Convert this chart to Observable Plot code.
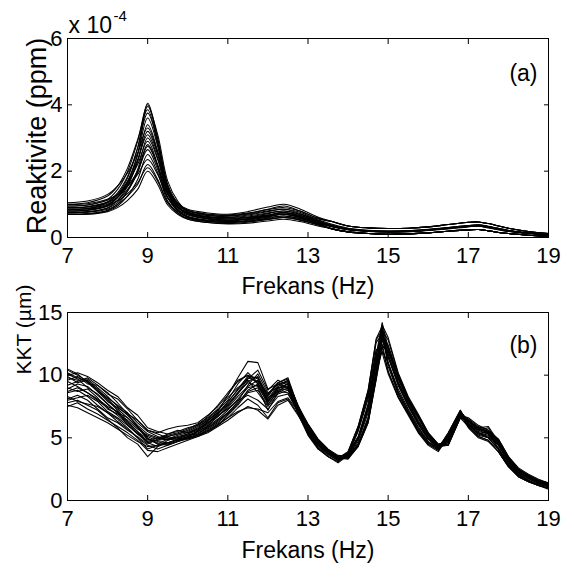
<!DOCTYPE html>
<html><head><meta charset="utf-8">
<script src="https://cdn.jsdelivr.net/npm/d3@7"></script>
<script src="https://cdn.jsdelivr.net/npm/@observablehq/plot@0.6"></script>
<style>
body{margin:0;background:#fff;}
#chart{position:relative;width:574px;height:577px;background:#fff;}
#chart svg{position:absolute;left:0;overflow:visible;background:transparent;}
</style></head><body><div id="chart"></div>
<script>
// ---- Panel (a): reactivity, values in units of 1e-4 ppm ----
const freqA = [7, 7.5, 8, 8.25, 8.5, 8.75, 9, 9.25, 9.5, 9.75, 10, 10.5, 11, 11.5, 12, 12.4, 12.8, 13.2, 13.6, 14, 14.5, 15, 15.5, 16, 16.5, 17, 17.25, 17.5, 18, 18.5, 19];
const reaktivite = [
  [.85, .88, 1.05, 1.3, 1.8, 2.7, 4.05, 3.0, 1.6, 1.05, .82, .7, .66, .72, .85, .95, .8, .6, .48, .35, .29, .27, .28, .32, .39, .46, .47, .42, .28, .18, .12],
  [.95, .98, 1.15, 1.45, 2.0, 2.9, 4.0, 2.9, 1.55, 1.0, .8, .68, .62, .68, .78, .85, .72, .55, .4, .28, .22, .2, .21, .25, .3, .36, .38, .34, .22, .14, .09],
  [.8, .82, .95, 1.2, 1.65, 2.5, 3.95, 3.1, 1.7, 1.1, .78, .62, .58, .62, .72, .8, .7, .52, .36, .26, .2, .18, .19, .23, .29, .36, .37, .33, .21, .13, .08],
  [1.0, 1.05, 1.25, 1.55, 2.1, 2.95, 3.85, 2.8, 1.5, 1.02, .85, .74, .7, .78, .92, 1.0, .86, .64, .48, .35, .29, .27, .28, .32, .39, .46, .47, .42, .28, .18, .12],
  [.9, .93, 1.08, 1.35, 1.85, 2.7, 3.75, 2.9, 1.55, 1.0, .76, .62, .56, .6, .68, .75, .66, .5, .35, .25, .2, .18, .2, .24, .29, .35, .37, .32, .2, .13, .07],
  [.75, .78, .9, 1.12, 1.55, 2.3, 3.4, 2.6, 1.4, .92, .7, .56, .5, .55, .64, .7, .6, .45, .26, .17, .12, .1, .11, .14, .19, .23, .24, .2, .12, .07, .04],
  [1.05, 1.1, 1.3, 1.55, 1.95, 2.55, 3.3, 2.55, 1.45, 1.0, .82, .7, .68, .74, .84, .9, .8, .6, .48, .35, .29, .27, .28, .32, .39, .46, .47, .42, .28, .18, .12],
  [.85, .87, 1.0, 1.2, 1.6, 2.3, 3.2, 2.5, 1.35, .9, .7, .57, .52, .55, .6, .65, .57, .43, .26, .17, .12, .1, .11, .14, .19, .23, .24, .2, .12, .07, .04],
  [.7, .72, .82, 1.0, 1.4, 2.05, 3.0, 2.35, 1.3, .85, .64, .52, .5, .56, .67, .75, .64, .48, .34, .24, .19, .17, .18, .22, .27, .33, .35, .3, .19, .12, .07],
  [.95, .98, 1.12, 1.3, 1.65, 2.2, 2.9, 2.2, 1.3, .92, .74, .63, .6, .65, .74, .8, .7, .53, .38, .27, .21, .19, .2, .24, .3, .36, .38, .33, .21, .14, .08],
  [.8, .82, .95, 1.12, 1.45, 2.0, 2.8, 2.15, 1.2, .82, .62, .5, .45, .48, .55, .6, .52, .4, .26, .17, .12, .1, .11, .14, .19, .23, .24, .2, .12, .07, .04],
  [.9, .92, 1.05, 1.22, 1.55, 2.0, 2.65, 2.05, 1.2, .85, .68, .56, .52, .56, .64, .7, .62, .46, .33, .24, .19, .17, .18, .22, .28, .34, .35, .31, .2, .13, .07],
  [.7, .71, .8, .95, 1.25, 1.75, 2.5, 1.95, 1.1, .74, .56, .45, .42, .46, .54, .6, .53, .4, .26, .17, .12, .1, .11, .14, .19, .23, .24, .2, .12, .07, .04],
  [1.0, 1.02, 1.15, 1.3, 1.55, 1.9, 2.35, 1.9, 1.2, .9, .76, .66, .64, .7, .8, .85, .76, .57, .48, .35, .29, .27, .28, .32, .39, .46, .47, .42, .28, .18, .12],
  [.75, .76, .85, 1.0, 1.25, 1.6, 2.2, 1.75, 1.05, .74, .58, .48, .45, .5, .58, .65, .57, .43, .26, .17, .12, .1, .11, .14, .19, .23, .24, .2, .12, .07, .04],
  [.85, .86, .96, 1.1, 1.32, 1.65, 2.1, 1.7, 1.05, .78, .62, .52, .48, .5, .56, .6, .54, .4, .26, .17, .12, .1, .11, .14, .19, .23, .24, .2, .12, .07, .04],
  [.7, .7, .78, .9, 1.12, 1.45, 2.0, 1.6, .98, .7, .55, .45, .41, .43, .5, .55, .48, .36, .26, .17, .12, .1, .11, .14, .19, .23, .24, .2, .12, .07, .04],
  [.8, .83, .98, 1.22, 1.7, 2.5, 3.6, 2.75, 1.45, .95, .72, .58, .53, .57, .65, .7, .62, .46, .33, .24, .19, .17, .18, .22, .27, .33, .35, .3, .19, .12, .07],
  [.75, .77, .88, 1.05, 1.4, 1.95, 2.75, 2.15, 1.2, .8, .6, .5, .47, .52, .62, .7, .6, .45, .32, .23, .18, .16, .17, .21, .26, .32, .34, .29, .18, .12, .07],
  [.9, .93, 1.06, 1.28, 1.7, 2.35, 3.1, 2.4, 1.35, .92, .73, .6, .56, .6, .68, .75, .66, .5, .35, .25, .2, .18, .19, .23, .28, .34, .36, .31, .2, .13, .08]
];

// ---- Panel (b): KKT in micrometres ----
const freqB = [7, 7.25, 7.5, 7.75, 8, 8.25, 8.5, 8.75, 9, 9.25, 9.5, 9.75, 10, 10.25, 10.5, 10.75, 11, 11.25, 11.5, 11.75, 12, 12.25, 12.5, 12.75, 13, 13.25, 13.5, 13.75, 14, 14.25, 14.5, 14.7, 14.85, 15, 15.25, 15.5, 15.75, 16, 16.25, 16.5, 16.8, 17, 17.25, 17.5, 17.75, 18, 18.25, 18.5, 18.75, 19];
const kkt = [
  [10.4, 10.0, 9.5, 8.9, 8.0, 7.2, 6.3, 5.5, 4.6, 4.8, 5.1, 5.3, 5.6, 6.0, 6.5, 7.2, 8.0, 9.3, 10.2, 9.4, 8.1, 9.2, 9.6, 7.6, 5.8, 4.6, 3.9, 3.4, 3.9, 5.9, 8.8, 12.9, 13.9, 11.0, 8.7, 7.2, 5.8, 4.7, 4.2, 5.4, 7.2, 6.1, 5.4, 5.0, 4.1, 2.9, 2.1, 1.7, 1.4, 1.2],
  [9.8, 9.6, 9.7, 9.0, 8.3, 7.5, 6.8, 6.0, 5.3, 5.0, 4.9, 5.2, 5.4, 5.8, 6.4, 7.0, 7.8, 8.9, 9.9, 9.8, 7.9, 8.9, 9.3, 7.2, 5.7, 4.5, 3.8, 3.3, 3.6, 4.9, 7.3, 11.0, 13.4, 11.6, 9.3, 7.6, 6.1, 4.9, 4.2, 4.8, 6.9, 6.1, 5.4, 5.2, 4.4, 3.1, 2.2, 1.8, 1.4, 1.2],
  [8.6, 8.8, 8.3, 7.6, 7.0, 6.5, 5.8, 5.0, 4.1, 4.4, 4.6, 4.9, 5.0, 5.3, 5.8, 6.3, 7.0, 7.9, 9.2, 10.1, 8.6, 9.0, 9.1, 7.0, 5.9, 4.8, 4.0, 3.5, 3.4, 4.3, 6.2, 9.6, 12.3, 11.9, 9.8, 8.0, 6.6, 5.2, 4.4, 4.4, 6.6, 6.3, 5.7, 5.4, 4.7, 3.3, 2.4, 1.9, 1.5, 1.3],
  [9.2, 9.5, 9.8, 9.2, 8.6, 7.8, 6.9, 6.4, 5.6, 5.3, 5.0, 5.0, 5.2, 5.5, 6.0, 6.7, 7.5, 8.5, 9.5, 9.9, 8.3, 9.4, 9.8, 7.5, 5.8, 4.7, 3.9, 3.4, 3.8, 5.1, 7.7, 11.6, 14.2, 12.2, 9.7, 7.9, 6.4, 5.1, 4.4, 5.0, 7.1, 6.4, 5.7, 5.4, 4.6, 3.3, 2.4, 1.9, 1.5, 1.3],
  [7.6, 7.4, 7.0, 6.6, 6.2, 5.7, 5.2, 4.7, 4.3, 4.4, 4.5, 4.7, 4.9, 5.2, 5.6, 6.1, 6.6, 7.1, 7.4, 7.3, 7.0, 7.9, 8.2, 7.1, 5.3, 4.2, 3.5, 3.1, 3.7, 5.7, 8.4, 12.0, 12.5, 10.3, 8.3, 6.9, 5.5, 4.5, 4.0, 5.2, 7.0, 5.9, 5.1, 4.8, 3.9, 2.7, 1.9, 1.5, 1.2, 1.0],
  [10.1, 9.7, 9.0, 8.5, 7.7, 7.0, 6.6, 5.9, 5.0, 4.5, 4.4, 4.7, 5.0, 5.6, 6.2, 6.9, 7.6, 8.6, 9.7, 10.4, 8.8, 9.6, 9.2, 7.4, 6.1, 4.9, 4.1, 3.5, 3.5, 4.5, 6.6, 10.3, 13.6, 12.8, 10.1, 8.2, 6.8, 5.4, 4.5, 4.6, 6.8, 6.5, 5.9, 5.6, 4.9, 3.5, 2.5, 2.0, 1.6, 1.4],
  [8.1, 8.4, 8.0, 7.3, 6.6, 6.2, 5.6, 5.1, 4.5, 4.9, 5.3, 5.6, 5.4, 5.7, 6.3, 7.1, 8.4, 9.8, 11.1, 11.0, 8.9, 9.3, 9.0, 7.3, 5.6, 4.5, 3.8, 3.3, 3.6, 4.9, 7.3, 10.9, 13.0, 11.5, 9.2, 7.6, 6.1, 4.9, 4.2, 4.8, 6.9, 6.1, 5.6, 5.8, 4.5, 3.1, 2.2, 1.8, 1.4, 1.2],
  [9.5, 9.1, 8.6, 8.0, 7.4, 6.8, 6.1, 5.3, 4.8, 5.0, 5.2, 5.4, 5.7, 6.1, 6.6, 7.3, 8.2, 9.0, 9.6, 8.6, 7.5, 8.5, 8.8, 7.0, 5.3, 4.2, 3.5, 3.1, 3.7, 5.6, 8.3, 12.0, 12.2, 10.3, 8.3, 6.9, 5.5, 4.5, 4.0, 5.2, 7.0, 5.9, 5.1, 4.8, 3.9, 2.7, 1.9, 1.5, 1.2, 1.0],
  [10.5, 10.1, 9.4, 8.7, 7.9, 7.4, 6.9, 5.9, 5.1, 4.7, 4.6, 4.8, 5.1, 5.5, 5.9, 6.5, 7.2, 8.1, 9.0, 9.2, 7.7, 8.6, 9.4, 7.6, 6.1, 4.9, 4.1, 3.6, 3.5, 4.5, 6.6, 10.4, 14.0, 13.0, 10.2, 8.3, 6.9, 5.4, 4.5, 4.6, 6.8, 6.6, 6.0, 5.6, 4.9, 3.5, 2.6, 2.1, 1.7, 1.4],
  [8.9, 9.3, 9.1, 8.4, 7.7, 7.0, 6.2, 5.5, 4.9, 4.6, 4.5, 4.9, 5.2, 5.3, 5.9, 6.8, 7.3, 8.0, 8.4, 8.0, 7.3, 8.3, 8.5, 7.1, 5.6, 4.5, 3.8, 3.3, 3.6, 4.9, 7.3, 10.8, 12.8, 11.4, 9.2, 7.5, 6.1, 4.9, 4.2, 4.8, 6.8, 6.0, 5.4, 5.1, 4.4, 3.1, 2.2, 1.8, 1.4, 1.2],
  [7.8, 8.0, 7.6, 7.2, 6.5, 5.8, 5.0, 4.5, 3.5, 4.3, 4.8, 5.0, 4.9, 5.1, 5.5, 6.0, 6.6, 7.4, 8.1, 7.6, 6.6, 7.8, 8.1, 6.9, 5.2, 4.1, 3.5, 3.0, 3.6, 5.5, 8.1, 11.5, 11.8, 10.1, 8.2, 6.8, 5.4, 4.4, 3.9, 5.1, 6.9, 5.8, 5.0, 4.7, 3.9, 2.7, 1.9, 1.5, 1.2, 0.9],
  [9.0, 8.7, 8.9, 8.2, 7.3, 6.9, 6.4, 5.7, 5.2, 4.9, 5.1, 5.3, 5.5, 5.9, 6.4, 7.0, 7.7, 8.6, 9.4, 9.1, 7.8, 9.1, 9.5, 7.2, 6.0, 4.8, 4.0, 3.5, 3.4, 4.4, 6.4, 10.0, 13.2, 12.4, 10.0, 8.1, 6.7, 5.3, 4.4, 4.5, 6.7, 6.4, 5.8, 5.5, 4.8, 3.4, 2.5, 2.0, 1.6, 1.4],
  [10.2, 9.8, 9.5, 8.7, 8.1, 7.3, 6.6, 5.8, 4.9, 4.5, 4.9, 5.0, 5.3, 5.6, 6.1, 6.9, 7.9, 8.8, 9.8, 9.5, 8.4, 9.3, 9.5, 7.5, 5.8, 4.6, 3.9, 3.4, 3.7, 5.0, 7.6, 11.4, 13.9, 12.0, 9.5, 7.8, 6.3, 5.0, 4.3, 4.9, 7.1, 6.3, 5.6, 5.3, 4.5, 3.2, 2.3, 1.9, 1.5, 1.3],
  [8.3, 7.9, 7.7, 7.5, 7.0, 6.3, 5.7, 5.0, 4.4, 4.1, 4.4, 4.7, 5.0, 5.2, 5.5, 6.0, 6.8, 7.6, 8.6, 8.8, 7.6, 8.8, 8.9, 7.2, 5.4, 4.3, 3.6, 3.2, 3.8, 5.8, 8.6, 12.6, 13.3, 10.7, 8.5, 7.0, 5.6, 4.6, 4.1, 5.3, 7.1, 6.0, 5.3, 5.5, 4.1, 2.8, 2.0, 1.6, 1.3, 1.1],
  [9.6, 9.9, 9.3, 9.2, 8.5, 8.1, 7.3, 6.4, 5.6, 5.4, 5.7, 5.9, 6.0, 6.2, 6.8, 7.5, 8.4, 9.6, 10.0, 9.7, 8.5, 9.4, 9.7, 7.1, 6.0, 4.8, 4.0, 3.5, 3.4, 4.4, 6.3, 9.8, 12.9, 12.2, 9.9, 8.1, 6.7, 5.3, 4.4, 4.5, 6.6, 6.3, 5.7, 5.4, 4.8, 3.4, 2.5, 2.0, 1.6, 1.4],
  [7.5, 7.8, 7.3, 6.9, 6.4, 5.9, 5.4, 4.8, 4.0, 3.9, 4.2, 4.5, 4.8, 5.1, 5.4, 5.9, 6.4, 7.0, 7.5, 7.2, 6.5, 7.6, 8.0, 6.8, 5.5, 4.4, 3.7, 3.2, 3.5, 4.7, 7.0, 10.3, 11.9, 11.0, 8.9, 7.3, 5.9, 4.7, 4.1, 4.7, 6.6, 5.9, 5.2, 5.0, 4.2, 3.0, 2.1, 1.6, 1.2, 1.0],
  [9.9, 9.4, 9.6, 8.8, 8.2, 7.6, 7.0, 6.2, 5.5, 5.1, 4.8, 5.1, 5.3, 5.7, 6.2, 6.7, 7.4, 8.3, 9.1, 9.6, 8.2, 8.8, 9.1, 7.4, 5.5, 4.4, 3.7, 3.2, 3.9, 5.9, 8.8, 12.8, 13.6, 10.9, 8.6, 7.1, 5.7, 4.6, 4.1, 5.4, 7.2, 6.1, 5.3, 5.0, 4.1, 2.9, 2.0, 1.6, 1.3, 1.1],
  [8.7, 9.0, 8.6, 8.1, 7.5, 7.1, 6.0, 5.4, 4.7, 4.8, 4.9, 4.8, 5.1, 5.4, 5.8, 6.4, 7.0, 7.8, 8.7, 9.0, 7.2, 8.6, 9.0, 7.0, 5.9, 4.7, 4.0, 3.4, 3.3, 4.3, 6.2, 9.7, 12.4, 12.0, 9.8, 8.0, 6.6, 5.2, 4.3, 4.4, 6.6, 6.3, 5.8, 5.9, 4.7, 3.3, 2.4, 1.9, 1.5, 1.3],
  [10.0, 10.2, 9.9, 9.4, 8.8, 8.3, 7.4, 6.8, 5.8, 5.5, 5.3, 5.5, 5.8, 6.0, 6.7, 7.6, 8.6, 9.5, 10.0, 9.3, 8.0, 9.0, 9.3, 7.4, 5.7, 4.6, 3.9, 3.4, 3.7, 5.0, 7.4, 11.1, 13.5, 11.7, 9.4, 7.7, 6.2, 5.0, 4.3, 4.9, 7.0, 6.2, 5.5, 5.3, 4.5, 3.2, 2.3, 1.8, 1.4, 1.2],
  [8.0, 8.2, 8.4, 7.9, 7.1, 6.6, 6.0, 5.3, 4.6, 4.3, 4.6, 4.8, 5.0, 5.2, 5.7, 6.2, 6.9, 7.7, 8.8, 9.3, 7.9, 8.7, 8.6, 7.1, 6.0, 4.8, 4.0, 3.5, 3.4, 4.4, 6.4, 9.9, 13.0, 12.3, 9.9, 8.1, 6.7, 5.3, 4.4, 4.5, 6.7, 6.4, 5.8, 5.5, 4.8, 3.4, 2.5, 2.0, 1.6, 1.4]
];

// ---- ticks and texts ----
const xTicks = [7, 9, 11, 13, 15, 17, 19];
const yTicksA = [0, 2, 4, 6];
const yTicksB = [0, 5, 10, 15];
const labelX = "Frekans (Hz)";
const labelYA = "Reaktivite (ppm)";
const labelYB = "KKT (µm)";
const panelA = "(a)";
const panelB = "(b)";
const expBase = "x 10";
const expPower = "-4";

const toRows = (freqs, series) =>
  series.flatMap((s, k) => s.map((v, i) => ({f: freqs[i], v, k})).filter(d => d.f != null && d.v != null));

const FONT = "'Liberation Sans', Arial, Helvetica, sans-serif";
const blank = () => "";

function panel({rows, yDomain, yTicks, height, marginTop, marginBottom, curve, extra}) {
  return Plot.plot({
    width: 574, height, marginLeft: 67, marginRight: 26, marginTop, marginBottom,
    style: {fontFamily: FONT, color: "black", background: "transparent", overflow: "visible"},
    x: {domain: [7, 19]},
    y: {domain: yDomain},
    marks: [
      Plot.line(rows, {x: "f", y: "v", z: "k", stroke: "#000", strokeWidth: 1.05, curve}),
      Plot.frame({stroke: "black", strokeWidth: 1}),
      Plot.axisX(xTicks, {anchor: "bottom", tickSize: 0, tickPadding: 10, fontSize: 22, label: null}),
      Plot.axisX(xTicks, {anchor: "bottom", tickSize: -5, tickFormat: blank, label: null}),
      Plot.axisX(xTicks, {anchor: "top", tickSize: -5, tickFormat: blank, label: null}),
      Plot.axisY(yTicks, {anchor: "left", tickSize: 0, tickPadding: 5, fontSize: 22, label: null}),
      Plot.axisY(yTicks, {anchor: "left", tickSize: -5, tickFormat: blank, label: null}),
      Plot.axisY(yTicks, {anchor: "right", tickSize: -5, tickFormat: blank, label: null}),
      ...extra
    ]
  });
}

const chartA = panel({
  rows: toRows(freqA, reaktivite), yDomain: [0, 6], yTicks: yTicksA,
  height: 290, marginTop: 38, marginBottom: 53, curve: "catmull-rom",
  extra: [
    Plot.text([labelX], {text: d => d, frameAnchor: "bottom", dy: 56, fontSize: 23, lineAnchor: "bottom"}),
    Plot.text([labelYA], {text: d => d, frameAnchor: "left", rotate: -90, dx: -22, dy: -2, fontSize: 27, lineAnchor: "bottom", textAnchor: "middle"}),
    Plot.text([expBase], {text: d => d, frameAnchor: "top-left", dx: 1, dy: -6, fontSize: 23, lineAnchor: "bottom", textAnchor: "start"}),
    Plot.text([expPower], {text: d => d, frameAnchor: "top-left", dx: 46, dy: -18, fontSize: 15, lineAnchor: "bottom", textAnchor: "start"}),
    Plot.text([panelA], {text: d => d, frameAnchor: "top-right", dx: -11, dy: 42, fontSize: 23, lineAnchor: "bottom", textAnchor: "end"})
  ]
});

const chartB = panel({
  rows: toRows(freqB, kkt), yDomain: [0, 15], yTicks: yTicksB,
  height: 287, marginTop: 22, marginBottom: 77, curve: "linear",
  extra: [
    Plot.text([labelX], {text: d => d, frameAnchor: "bottom", dy: 57, fontSize: 23, lineAnchor: "bottom"}),
    Plot.text([labelYB], {text: d => d, frameAnchor: "top-left", rotate: -90, dx: -37, dy: 17, fontSize: 21, lineAnchor: "bottom", textAnchor: "middle"}),
    Plot.text([panelB], {text: d => d, frameAnchor: "top-right", dx: -11, dy: 40, fontSize: 23, lineAnchor: "bottom", textAnchor: "end"})
  ]
});

chartA.style.top = "0px";
chartB.style.top = "290px";
const holder = document.getElementById("chart");
holder.appendChild(chartA);
holder.appendChild(chartB);
</script>
</body></html>
